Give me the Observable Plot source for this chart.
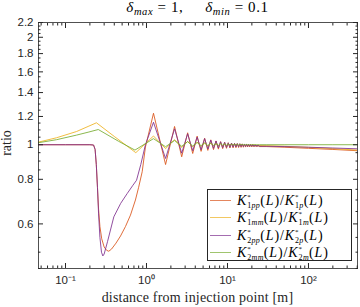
<!DOCTYPE html>
<html><head><meta charset="utf-8">
<script src="https://cdn.jsdelivr.net/npm/d3@7"></script>
<script src="https://cdn.jsdelivr.net/npm/@observablehq/plot@0.6"></script>
<style>
body{margin:0;background:#fff;}
#wrap{position:relative;width:360px;height:307px;overflow:hidden;color:#262626;}
.serif{font-family:"Liberation Serif","Times New Roman",serif;}
#title{position:absolute;left:38px;width:319px;top:-1px;text-align:center;font-size:15px;letter-spacing:0.6px;line-height:17px;color:#000;}
#title sub{font-size:10.5px;vertical-align:-3px;line-height:0;}
#xlab{position:absolute;left:38px;width:319px;top:290px;text-align:center;font-size:14px;letter-spacing:0.2px;line-height:16px;color:#262626;}
#ylab{position:absolute;left:-13px;top:137px;width:40px;height:12px;text-align:center;font-size:14px;line-height:12px;transform:rotate(-90deg);color:#262626;}
#legend{position:absolute;left:207px;top:189px;width:145px;height:72px;border:1px solid #262626;background:#fff;box-sizing:border-box;}
.row{position:absolute;left:0;height:17px;width:100%;}
.sw{position:absolute;left:2px;width:21px;top:8px;height:0;border-top:1px solid;}
.tx{position:absolute;left:29px;top:0;font-size:14px;letter-spacing:0.9px;line-height:17px;white-space:nowrap;color:#000;}
.ss{display:inline-block;letter-spacing:0.3px;vertical-align:-3px;text-align:left;}
.ss>span{display:block;}
.ss>.sp{font-size:7px;line-height:8px;}
.ss>.sb{font-size:8px;line-height:9px;}
</style></head>
<body>
<div id="wrap">
  <div id="chart"></div>
  <div id="title" class="serif"><i>δ</i><sub><i>max</i></sub> = 1,&nbsp;&nbsp;&nbsp;&nbsp; <i>δ</i><sub><i>min</i></sub> = 0.1</div>
  <div id="ylab" class="serif">ratio</div>
  <div id="xlab" class="serif">distance from injection point [m]</div>
  <div id="legend"></div>
</div>
<script>
// ---- data ----
const seriesNames = ["1pp","1mm","2pp","2mm"];
const seriesColors = ["#D95319","#EDB120","#7E2F8E","#77AC30"];
const legendNum = ["1<i>pp</i>","1<i>mm</i>","2<i>pp</i>","2<i>mm</i>"];
const legendDen = ["1<i>p</i>","1<i>m</i>","2<i>p</i>","2<i>m</i>"];

const xOsc = [1.22,1.72,2.22,2.72,3.22,3.72,4.22,4.72,5.22,5.72,6.22,6.72,7.22,7.72,8.22,8.72,9.22,9.72,10.22,10.72,11.22,11.72,12.22,12.72,13.22,13.72,14.22,14.72,15.22,15.72,16.22,16.72,17.22,17.72,18.22,18.72,19.22,19.72,20.22,20.72,21.22,21.72,22.22,22.72,23.22,23.72,24.22,24.72];
const xTail = [30, 50, 100, 200, 403];

const xHead1pp = [0.0464,0.1,0.2,0.222,0.232,0.24,0.248,0.256,0.266,0.28,0.3,0.322,0.342,0.37,0.42,0.478,0.55,0.634,0.73,0.8,0.885,0.97];
const yHead1pp = [1,1,1,0.998,0.97,0.88,0.76,0.66,0.59,0.545,0.517,0.506,0.503,0.51,0.53,0.555,0.59,0.635,0.7,0.76,0.84,0.985];
const yOsc1pp = [1.225,0.88,1.125,0.925,1.08,0.945,1.057,0.958,1.043,0.964,1.032,0.969,1.025,0.972,1.02,0.975,1.016,0.977,1.013,0.979,1.011,0.98,1.009,0.981,1.007,0.982,1.006,0.983,1.005,0.984,1.004,0.985,1.003,0.986,1.002,0.986,1.001,0.987,1.0,0.987,0.999,0.988,0.998,0.988,0.997,0.988,0.996,0.988];
const yTail1pp = [0.988,0.984,0.977,0.970,0.962];

const xHead1mm = [0.0464,0.0775,0.137,0.19,0.241,0.4,0.738];
const yHead1mm = [1.017,1.046,1.089,1.125,1.152,1.055,0.95];
const yOsc1mm = [1.058,0.975,1.033,0.982,1.022,0.986,1.016,0.988,1.012,0.99,1.01,0.991,1.008,0.992,1.007,0.992,1.006,0.993,1.005,0.993,1.004,0.994,1.003,0.994,1.003,0.994,1.002,0.995,1.002,0.995,1.001,0.995,1.001,0.995,1.0,0.995,1.0,0.995,1.0,0.995,0.999,0.995,0.999,0.995,0.998,0.995,0.998,0.995];
const yTail1mm = [0.994,0.99,0.983,0.975,0.966];

const xHead2pp = [0.0464,0.1,0.2,0.222,0.232,0.24,0.248,0.256,0.266,0.278,0.289,0.3,0.33,0.395,0.48,0.578,0.68,0.753,0.85,0.97];
const yHead2pp = [1,1,1,0.998,0.97,0.88,0.76,0.64,0.55,0.5,0.488,0.494,0.535,0.628,0.685,0.73,0.77,0.795,0.88,1.0];
const yOsc2pp = [1.156,0.915,1.108,0.947,1.073,0.962,1.05,0.968,1.04,0.973,1.03,0.977,1.024,0.979,1.019,0.981,1.015,0.983,1.012,0.984,1.01,0.985,1.008,0.986,1.007,0.987,1.006,0.988,1.005,0.988,1.004,0.989,1.003,0.989,1.002,0.99,1.001,0.99,1.0,0.99,0.999,0.99,0.998,0.99,0.998,0.99,0.997,0.99];
const yTail2pp = [0.99,0.988,0.984,0.979,0.974];

const xHead2mm = [0.0464,0.0775,0.137,0.19,0.254,0.45,0.72];
const yHead2mm = [1.013,1.033,1.064,1.084,1.103,1.023,0.966];
const yOsc2mm = [1.04,0.987,1.028,0.99,1.02,0.992,1.015,0.994,1.012,0.995,1.01,0.996,1.008,0.996,1.007,0.997,1.006,0.997,1.005,0.998,1.004,0.998,1.004,0.998,1.003,0.998,1.003,0.999,1.002,0.999,1.002,0.999,1.002,0.999,1.001,0.999,1.001,0.999,1.001,0.999,1.001,1.0,1.001,1.0,1.0,1.0,1.0,1.0];
const yTail2mm = [1.0,1.0,1.0,1.0,1.0];

const xMajor = [0.1, 1, 10, 100];
const xMajorLabels = ["10⁻¹","10⁰","10¹","10²"];
const yMajor = [0.6,0.8,1,1.2,1.4,1.6,1.8,2,2.2];
const yMajorLabels = ["0.6","0.8","1","1.2","1.4","1.6","1.8","2","2.2"];

// ---- build ----
const series = [
  {x:[...xHead1pp,...xOsc,...xTail], y:[...yHead1pp,...yOsc1pp,...yTail1pp]},
  {x:[...xHead1mm,...xOsc,...xTail], y:[...yHead1mm,...yOsc1mm,...yTail1mm]},
  {x:[...xHead2pp,...xOsc,...xTail], y:[...yHead2pp,...yOsc2pp,...yTail2pp]},
  {x:[...xHead2mm,...xOsc,...xTail], y:[...yHead2mm,...yOsc2mm,...yTail2mm]}
];
const xMinor = [];
for (const d of [0.01,0.1,1,10,100]) for (let k=2;k<=9;k++){const v=k*d; if(v>0.0464 && v<403 && !xMajor.includes(v)) xMinor.push(v);}
const yMinor = d3.range(45,221,5).map(v=>v/100).filter(v=>!yMajor.some(m=>Math.abs(m-v)<1e-9));

const axisCommon = {label:null};
const chart = Plot.plot({
  width:360, height:307,
  marginLeft:38, marginRight:3, marginTop:22, marginBottom:39,
  x:{type:"log", domain:[0.0464,403], label:null},
  y:{type:"log", domain:[0.45,2.2], label:null},
  style:{fontFamily:"'Liberation Sans', Arial, sans-serif", fontSize:"11.5px", color:"#262626", background:"#fff"},
  marks:[
    ...series.map((s,i)=>Plot.line(s.y,{x:s.x, y:s.y, stroke:seriesColors[i], strokeWidth:1, strokeOpacity:0.85, clip:true})),
    Plot.frame({stroke:"#262626", strokeWidth:0.8}),
    Plot.axisX(xMajor,{anchor:"bottom", tickSize:-5, tickPadding:12, tickFormat:(d)=>xMajorLabels[xMajor.indexOf(d)], ...axisCommon}),
    Plot.axisX(xMajor,{anchor:"top", tickSize:-5, fill:"none", ...axisCommon}),
    Plot.axisX(xMinor,{anchor:"bottom", tickSize:-2.5, fill:"none", ...axisCommon}),
    Plot.axisX(xMinor,{anchor:"top", tickSize:-2.5, fill:"none", ...axisCommon}),
    Plot.axisY(yMajor,{anchor:"left", tickSize:-5, tickPadding:10, tickFormat:d=>yMajorLabels[yMajor.indexOf(d)], ...axisCommon}),
    Plot.axisY(yMajor,{anchor:"right", tickSize:-5, fill:"none", ...axisCommon}),
    Plot.axisY(yMinor,{anchor:"left", tickSize:-2.5, fill:"none", ...axisCommon}),
    Plot.axisY(yMinor,{anchor:"right", tickSize:-2.5, fill:"none", ...axisCommon})
  ]
});
document.getElementById("chart").appendChild(chart);

// legend
const leg = document.getElementById("legend");
const rowTops = [1.5, 19, 37, 53.5];
seriesNames.forEach((n,i)=>{
  const r = document.createElement("div");
  r.className="row"; r.style.top = rowTops[i]+"px";
  r.innerHTML = `<span class="sw" style="border-color:${seriesColors[i]};opacity:0.7"></span><span class="tx serif"><i>K</i><span class="ss"><span class="sp">*</span><span class="sb">${legendNum[i]}</span></span>(<i>L</i>)/<i>K</i><span class="ss"><span class="sp">*</span><span class="sb">${legendDen[i]}</span></span>(<i>L</i>)</span>`;
  leg.appendChild(r);
});
</script>
</body></html>
